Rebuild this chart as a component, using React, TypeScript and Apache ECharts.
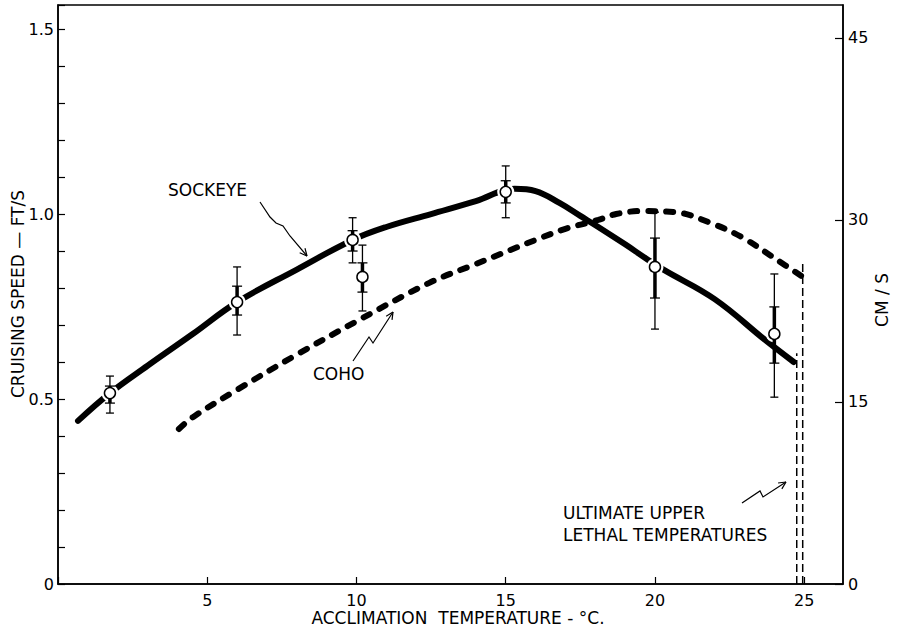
import React, { useEffect, useRef } from "react";
import * as echarts from "echarts";

// ---- data (temperature °C, cruising speed ft/s) ----
const sockeyeCurveT = [0.67, 1.74, 3, 4.5, 6, 8, 9.87, 11, 12.5, 14, 15.3, 16.0, 16.8, 17.5, 18.1, 19.0, 19.7, 20.3, 22, 23.7, 24.65];
const sockeyeCurveV = [0.441, 0.516, 0.59, 0.675, 0.762, 0.85, 0.93, 0.965, 1.0, 1.035, 1.068, 1.062, 1.03, 0.995, 0.965, 0.918, 0.88, 0.849, 0.77, 0.659, 0.6];

const cohoCurveT = [4.05, 4.52, 6, 8, 10, 12.44, 14, 16, 17, 18.1, 18.7, 19.5, 20.7, 21.8, 22.9, 24.0, 24.95];
const cohoCurveV = [0.419, 0.451, 0.525, 0.62, 0.71, 0.814, 0.865, 0.93, 0.96, 0.984, 1.0, 1.008, 1.005, 0.978, 0.938, 0.881, 0.83];

const pointT = [1.74, 6.0, 9.87, 10.2, 15.0, 20.0, 24.0];
const pointMean = [0.516, 0.762, 0.93, 0.83, 1.06, 0.857, 0.676];
const thinLo = [0.462, 0.673, 0.868, 0.738, 0.99, 0.689, 0.505];
const thinHi = [0.562, 0.857, 0.99, 0.916, 1.13, 1.005, 0.838];
const thickLo = [0.489, 0.727, 0.9, 0.789, 1.03, 0.773, 0.597];
const thickHi = [0.535, 0.805, 0.955, 0.868, 1.09, 0.935, 0.749];

const lethalSockeyeT = 24.75;
const lethalSockeyeTop = 0.624;
const lethalCohoT = 24.95;
const lethalCohoTop = 0.876;

const xTickLabels = ["5", "10", "15", "20", "25"];
const yMax = 1.565;
const FT_TO_CM = 30.48;

const FONT = '"DejaVu Sans", "Liberation Sans", sans-serif';

function arrowHead(tipX: number, tipY: number, fromX: number, fromY: number, len = 8, ang = 0.45) {
  const a = Math.atan2(fromY - tipY, fromX - tipX);
  return [
    { type: "line", shape: { x1: tipX, y1: tipY, x2: tipX + len * Math.cos(a + ang), y2: tipY + len * Math.sin(a + ang) }, style: { stroke: "#000", lineWidth: 1.2 } },
    { type: "line", shape: { x1: tipX, y1: tipY, x2: tipX + len * Math.cos(a - ang), y2: tipY + len * Math.sin(a - ang) }, style: { stroke: "#000", lineWidth: 1.2 } },
  ];
}

function poly(points: number[][]) {
  return { type: "polyline", shape: { points }, style: { stroke: "#000", lineWidth: 1.2, fill: null } };
}

function txt(x: number, y: number, text: string, size = 16, align = "left", rotation = 0) {
  return {
    type: "text",
    x,
    y,
    rotation,
    style: { text, fill: "#000", fontSize: size, fontFamily: FONT, align, verticalAlign: "middle" },
  };
}

export default function App() {
  const ref = useRef<HTMLDivElement>(null);
  useEffect(() => {
    document.body.style.margin = "0";
    const chart = echarts.init(ref.current!, null, { renderer: "svg" });

    const sockeye = sockeyeCurveT.map((t, i) => [t, sockeyeCurveV[i]]);
    const coho = cohoCurveT.map((t, i) => [t, cohoCurveV[i]]);
    const points = pointT.map((t, i) => [t, pointMean[i]]);
    const bars = pointT.map((t, i) => [t, thinLo[i], thinHi[i], thickLo[i], thickHi[i]]);

    const sArrow = [[260, 202], [270, 217], [276, 223], [283, 226], [290, 236], [307, 256]];
    const cArrow = [[353, 361], [369, 337], [373, 343], [393, 312]];
    const lArrow = [[742, 503], [760, 491], [763, 497], [786, 482]];

    const graphic: any[] = [
      txt(168, 190, "SOCKEYE", 17, "left"),
      poly(sArrow),
      ...arrowHead(307, 256, 290, 236),
      txt(313, 374, "COHO", 17, "left"),
      poly(cArrow),
      ...arrowHead(393, 312, 373, 343),
      txt(563, 513, "ULTIMATE UPPER", 17, "left"),
      txt(563, 535, "LETHAL TEMPERATURES", 17, "left"),
      poly(lArrow),
      ...arrowHead(786, 482, 763, 497),
      txt(458, 618, "ACCLIMATION  TEMPERATURE - °C.", 17, "center"),
      txt(18, 294, "CRUISING SPEED — FT/S", 17, "center", Math.PI / 2),
      txt(882, 300, "CM / S", 17, "center", Math.PI / 2),
    ];

    const option: any = {
      animation: false,
      backgroundColor: "#fff",
      grid: { left: 58, right: 54, top: 5, bottom: 48, show: true, borderColor: "#000", borderWidth: 1.5, backgroundColor: "transparent" },
      xAxis: {
        type: "value",
        min: 0,
        max: 26.3,
        interval: 5,
        axisLine: { show: true, lineStyle: { color: "#000", width: 1.5 } },
        axisTick: { show: true, inside: true, length: 7, lineStyle: { color: "#000", width: 1.2 } },
        axisLabel: {
          color: "#000",
          fontSize: 16,
          fontFamily: FONT,
          margin: 8,
          showMaxLabel: false,
          formatter: (v: number) => {
            const k = Math.round(v / 5);
            return Math.abs(v - k * 5) < 1e-6 && k >= 1 && k <= 5 ? xTickLabels[k - 1] : "";
          },
        },
        splitLine: { show: false },
      },
      yAxis: [
        {
          type: "value",
          min: 0,
          max: yMax,
          interval: 0.5,
          position: "left",
          axisLine: { show: true, lineStyle: { color: "#000", width: 1.5 } },
          axisTick: { show: true, inside: true, length: 7, lineStyle: { color: "#000", width: 1.2 } },
          minorTick: { show: true, splitNumber: 5, length: 7, lineStyle: { color: "#000", width: 1.2 } },
          axisLabel: {
            color: "#000",
            fontSize: 16,
            fontFamily: FONT,
            margin: 4,
            showMaxLabel: false,
            formatter: (v: number) => (v === 0 ? "0" : v > 1.51 ? "" : v.toFixed(1)),
          },
          splitLine: { show: false },
        },
        {
          type: "value",
          min: 0,
          max: yMax * FT_TO_CM,
          interval: 15,
          position: "right",
          axisLine: { show: true, lineStyle: { color: "#000", width: 1.5 } },
          axisTick: { show: true, inside: true, length: 8, lineStyle: { color: "#000", width: 1.2 } },
          axisLabel: {
            color: "#000",
            fontSize: 16,
            fontFamily: FONT,
            margin: 5,
            showMaxLabel: false,
            formatter: (v: number) => (v > 46 ? "" : String(Math.round(v))),
          },
          splitLine: { show: false },
        },
      ],
      series: [
        {
          name: "Sockeye",
          type: "line",
          data: sockeye,
          smooth: 0.4,
          showSymbol: false,
          lineStyle: { color: "#000", width: 6, cap: "round" },
          z: 2,
        },
        {
          name: "Coho",
          type: "line",
          data: coho,
          smooth: 0.35,
          showSymbol: false,
          lineStyle: { color: "#000", width: 6, type: [7, 11], cap: "round" },
          z: 2,
        },
        {
          name: "Sockeye lethal",
          type: "line",
          data: [[lethalSockeyeT, 0], [lethalSockeyeT, lethalSockeyeTop]],
          showSymbol: false,
          lineStyle: { color: "#000", width: 1.5, type: [8, 4] },
          z: 2,
        },
        {
          name: "Coho lethal",
          type: "line",
          data: [[lethalCohoT, 0], [lethalCohoT, lethalCohoTop]],
          showSymbol: false,
          lineStyle: { color: "#000", width: 1.5, type: [8, 4] },
          z: 2,
        },
        {
          name: "Halo",
          type: "scatter",
          data: points,
          symbol: "circle",
          symbolSize: 17,
          itemStyle: { color: "#fff", opacity: 1 },
          silent: true,
          z: 3,
        },
        {
          name: "Error bars",
          type: "custom",
          data: bars,
          z: 4,
          renderItem: (params: any, api: any) => {
            const t = api.value(0);
            const pLo = api.coord([t, api.value(1)]);
            const pHi = api.coord([t, api.value(2)]);
            const kLo = api.coord([t, api.value(3)]);
            const kHi = api.coord([t, api.value(4)]);
            const x = pLo[0];
            const s = { stroke: "#000", lineWidth: 1.3 };
            const cap = 4;
            return {
              type: "group",
              children: [
                { type: "line", shape: { x1: x, y1: pLo[1], x2: x, y2: pHi[1] }, style: s },
                { type: "line", shape: { x1: x - cap, y1: pLo[1], x2: x + cap, y2: pLo[1] }, style: s },
                { type: "line", shape: { x1: x - cap, y1: pHi[1], x2: x + cap, y2: pHi[1] }, style: s },
                { type: "line", shape: { x1: x, y1: kLo[1], x2: x, y2: kHi[1] }, style: { stroke: "#000", lineWidth: 3.5 } },
                { type: "line", shape: { x1: x - cap - 1, y1: kLo[1], x2: x + cap + 1, y2: kLo[1] }, style: s },
                { type: "line", shape: { x1: x - cap - 1, y1: kHi[1], x2: x + cap + 1, y2: kHi[1] }, style: s },
              ],
            };
          },
        },
        {
          name: "Sockeye means",
          type: "scatter",
          data: points,
          symbol: "circle",
          symbolSize: 11,
          itemStyle: { color: "#fff", borderColor: "#000", borderWidth: 1.5, opacity: 1 },
          z: 5,
        },
      ],
      graphic,
    };
    chart.setOption(option);
    return () => chart.dispose();
  }, []);
  return <div ref={ref} style={{ width: 897, height: 632 }} />;
}
